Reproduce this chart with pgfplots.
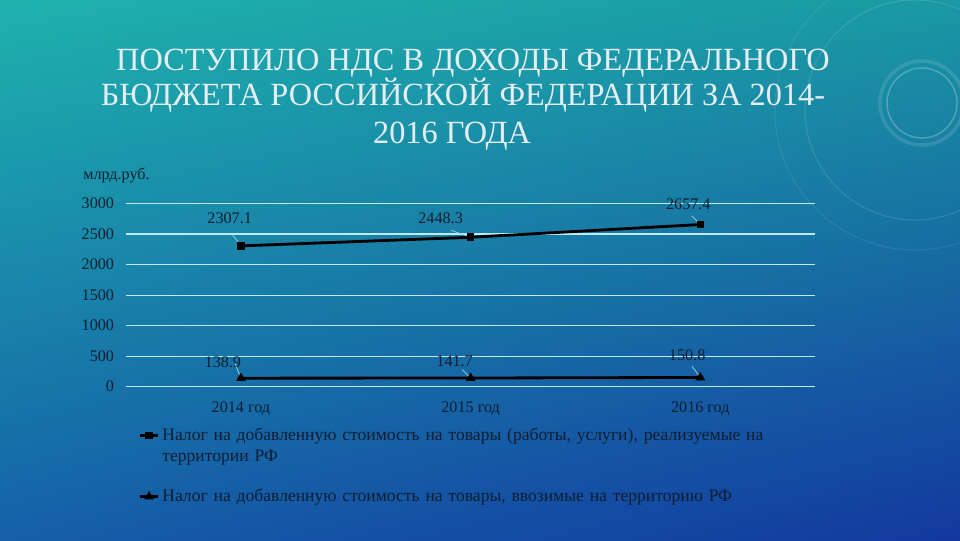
\documentclass[border=0pt]{standalone}
\usepackage{pgfplots}
\pgfplotsset{compat=1.18}
\usetikzlibrary{shadings}
\usepackage{fontspec}
\setmainfont{Liberation Serif}
\definecolor{bgUL}{HTML}{1EB2AE}
\definecolor{bgUR}{HTML}{1A98A4}
\definecolor{bgLL}{HTML}{1560A8}
\definecolor{bgLR}{HTML}{1338A0}
\definecolor{gridc}{HTML}{BDEBF5}
\definecolor{txt}{HTML}{0E1E30}
\definecolor{ttl}{HTML}{E4EEF2}
\definecolor{lead}{HTML}{9ED6E6}
\begin{document}
\begin{tikzpicture}[x=0.025cm,y=0.025cm]
\useasboundingbox (0,0) rectangle (960,540);
\shade[upper left=bgUL, upper right=bgUR, lower left=bgLL, lower right=bgLR] (0,0) rectangle (960,540);
% decorative rings
\begin{scope}
\clip (0,0) rectangle (960,540);
\draw[white,opacity=0.25,line width=1pt] (922,437) circle (35);
\draw[white,opacity=0.12,line width=2.5pt] (922,437) circle (42);
\draw[white,opacity=0.12,line width=0.8pt] (915,430) circle (110);
\draw[white,opacity=0.08,line width=0.8pt] (915,430) circle (140);
\end{scope}
% title
\node[text=ttl,font=\fontsize{23}{27}\selectfont,anchor=base] at (473,540-70.5) {ПОСТУПИЛО НДС В ДОХОДЫ ФЕДЕРАЛЬНОГО};
\node[text=ttl,font=\fontsize{23}{27}\selectfont,anchor=base] at (463,540-105.5) {БЮДЖЕТА РОССИЙСКОЙ ФЕДЕРАЦИИ ЗА 2014-};
\node[text=ttl,font=\fontsize{23}{27}\selectfont,anchor=base] at (452,540-143.5) {2016 ГОДА};
% unit
\node[text=txt,font=\fontsize{11.5}{13}\selectfont,anchor=base west,inner sep=0] at (83,540-180) {млрд.руб.};
\begin{axis}[
  at={(3.15cm,3.8325cm)}, anchor=south west,
  scale only axis, width=17.225cm, height=4.575cm,
  xmin=-0.5, xmax=2.5, ymin=0, ymax=3000,
  xtick={0,1,2}, xticklabels={2014 год,2015 год,2016 год},
  ytick={0,500,1000,1500,2000,2500,3000},
  /pgf/number format/1000 sep={},
  ymajorgrids, grid style={color=gridc,line width=0.9pt},
  axis line style={draw=none}, major tick style={draw=none},
  /pgf/number format/assume math mode=true,
  ticklabel style={text=txt,font=\fontsize{11.5}{13}\selectfont},
  yticklabel style={xshift=-5pt},
  xticklabel style={yshift=-7pt},
  clip=false,
  legend style={at={(0.018,-0.21)}, anchor=north west, draw=none, fill=none,
    font=\fontsize{12.5}{15}\selectfont, text=txt,
    nodes={align=left,text width=16.5cm},
    row sep=29pt, legend cell align=left, inner sep=0pt},
  legend image code/.code={\draw[#1,line width=1.4pt] (0,0)--(0.45cm,0); \draw[#1,mark repeat=2,mark phase=2] plot coordinates {(0,0) (0.225cm,0) (0.45cm,0)};},
]
\addplot[color=black, line width=2pt, mark=square*, mark size=1.7pt, mark options={solid}] coordinates {(0,2307.1) (1,2448.3) (2,2657.4)};
\addlegendentry{Налог на добавленную стоимость на товары (работы, услуги), реализуемые на\\территории РФ}
\addplot[color=black, line width=2pt, mark=triangle*, mark size=2pt, mark options={solid}] coordinates {(0,138.9) (1,141.7) (2,150.8)};
\addlegendentry{Налог на добавленную стоимость на товары, ввозимые на территорию РФ}
% data labels
\begin{scope}[every node/.style={text=txt,font=\fontsize{11.5}{13}\selectfont,inner sep=1pt}]
\draw[lead,line width=0.5pt] (axis cs:0,2307.1) -- ++(-6pt,8pt);
\node at (axis cs:0,2307.1) [xshift=-0.28cm,yshift=0.68cm] {2307.1};
\draw[lead,line width=0.5pt] (axis cs:1,2448.3) -- ++(-14pt,5pt);
\node at (axis cs:1,2448.3) [xshift=-0.75cm,yshift=0.48cm] {2448.3};
\draw[lead,line width=0.5pt] (axis cs:2,2657.4) -- ++(-6pt,6pt);
\node at (axis cs:2,2657.4) [xshift=-0.30cm,yshift=0.50cm] {2657.4};
\draw[lead,line width=0.5pt] (axis cs:0,138.9) -- ++(-4pt,10pt);
\node at (axis cs:0,138.9) [xshift=-0.45cm,yshift=0.40cm] {138.9};
\draw[lead,line width=0.5pt] (axis cs:1,141.7) -- ++(-6pt,6pt);
\node at (axis cs:1,141.7) [xshift=-0.40cm,yshift=0.43cm] {141.7};
\draw[lead,line width=0.5pt] (axis cs:2,150.8) -- ++(-6pt,8pt);
\node at (axis cs:2,150.8) [xshift=-0.33cm,yshift=0.56cm] {150.8};
\end{scope}
\end{axis}
\end{tikzpicture}
\end{document}
